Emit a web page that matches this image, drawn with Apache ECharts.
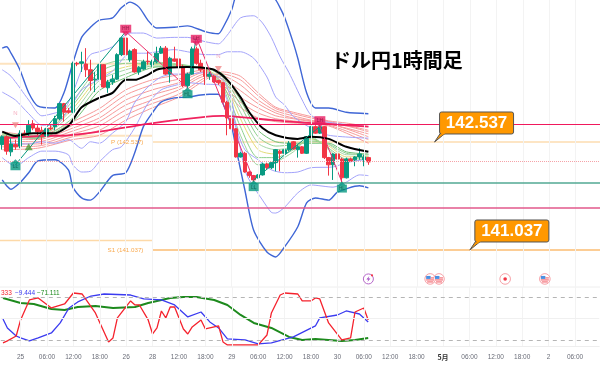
<!DOCTYPE html>
<html>
<head>
<meta charset="utf-8">
<style>html,body{margin:0;padding:0;background:#fff}#chart{width:600px;height:366px}</style>
<script src="https://cdn.jsdelivr.net/npm/echarts@6/dist/echarts.min.js"></script>
</head>
<body>
<div id="chart"></div>
<script>
const barCount = 136;
const tickIndex = [4,10,16,22,28,34,40,46,52,58,64,70,76,82,88,94,100,106,112,118,124,130];
const tickLabels = ['25','06:00','12:00','18:00','26','28','12:00','18:00','29','06:00','12:00','18:00','30','06:00','12:00','18:00','5月','06:00','12:00','18:00','2','06:00'];

// open, close, low, high
const candles = [
[142.50,142.61,142.43,142.63],[142.61,142.41,142.36,142.63],[142.40,142.51,142.34,142.59],[142.50,142.47,142.43,142.57],
[142.48,142.66,142.45,142.70],[142.66,142.64,142.61,142.70],[142.66,142.77,142.62,142.84],[142.79,142.73,142.70,142.84],
[142.73,142.68,142.63,142.77],[142.70,142.62,142.50,142.75],[142.62,142.72,142.59,142.75],[142.73,142.72,142.70,142.77],
[142.75,142.86,142.70,142.90],[142.86,143.07,142.84,143.08],[143.07,142.95,142.82,143.08],[142.97,142.95,142.93,143.01],
[142.95,143.63,142.94,143.65],[143.63,143.62,143.59,143.65],[143.63,143.65,143.51,143.79],[143.62,143.54,143.44,143.84],
[143.54,143.39,143.25,143.68],[143.40,143.41,143.23,143.51],[143.41,143.61,143.30,143.63],[143.61,143.30,143.29,143.62],
[143.29,143.37,143.22,143.40],[143.37,143.41,143.33,143.47],[143.41,143.75,143.40,143.77],[143.75,143.98,143.73,143.99],
[143.98,143.75,143.73,143.99],[143.68,143.80,143.65,143.82],[143.82,143.51,143.50,143.84],[143.51,143.57,143.47,143.59],
[143.55,143.65,143.54,143.68],[143.66,143.65,143.61,143.79],[143.61,143.65,143.58,143.68],[143.65,143.77,143.63,143.86],
[143.77,143.84,143.76,143.87],[143.84,143.48,143.47,143.87],[143.48,143.70,143.36,143.72],[143.69,143.66,143.65,143.86],
[143.69,143.58,143.54,143.72],[143.58,143.32,143.30,143.61],[143.32,143.48,143.29,143.50],[143.48,143.83,143.47,143.86],
[143.83,143.63,143.61,143.86],[143.63,143.54,143.51,143.68],[143.54,143.45,143.33,143.57],[143.45,143.48,143.40,143.51],
[143.45,143.37,143.36,143.47],[143.39,143.36,143.33,143.40],[143.36,143.09,143.08,143.37],[143.09,142.87,142.63,143.11],
[142.86,142.72,142.70,142.87],[142.72,142.33,142.32,142.73],[142.33,142.38,142.32,142.40],[142.38,142.12,142.11,142.40],
[142.12,142.07,142.04,142.13],[142.07,142.01,141.98,142.08],[142.04,142.08,142.03,142.09],[142.08,142.23,142.07,142.25],
[142.23,142.18,142.15,142.25],[142.18,142.25,142.16,142.26],[142.25,142.43,142.13,142.44],[142.41,142.38,142.13,142.43],
[142.38,142.43,142.37,142.45],[142.43,142.52,142.41,142.55],[142.54,142.44,142.43,142.55],[142.43,142.47,142.32,142.50],
[142.47,142.38,142.37,142.48],[142.38,142.61,142.37,142.62],[142.61,142.75,142.59,142.76],[142.75,142.66,142.65,142.77],
[142.66,142.75,142.65,142.77],[142.75,142.32,142.30,142.76],[142.32,142.22,142.07,142.33],[142.22,142.37,142.01,142.38],
[142.37,142.30,142.29,142.38],[142.30,142.04,141.97,142.32],[142.04,142.30,142.03,142.32],[142.30,142.27,142.26,142.32],
[142.29,142.33,142.20,142.34],[142.33,142.37,142.29,142.45],[142.29,142.33,142.20,142.36],[142.32,142.26,142.22,142.33]
];

// bands: [bar index, price]
const bbUpper3 = [[0,143.84],[1,143.86],[2,143.77],[4,143.54],[6,143.22],[8,143.04],[12,143.01],[14,143.22],[16,143.63],[18,143.99],[20,144.13],[22,144.23],[25,144.26],[27,144.40],[29,144.48],[31,144.41],[33,144.23],[35,144.12],[39,144.13],[42,144.15],[46,144.07],[49,144.04],[50,144.12],[52,144.37],[53,144.57],[57,144.95],[62,144.51],[63,144.40],[64,144.27],[66,143.91],[67,143.70],[69,143.22],[71,143.01],[74,143.01],[78,142.95],[83,142.93]];
const bbLower3 = [[0,142.01],[1,141.93],[2,141.88],[4,141.97],[6,142.11],[8,142.27],[12,142.29],[15,142.15],[16,141.91],[18,141.76],[20,141.73],[22,141.84],[25,142.07],[28,142.11],[30,142.38],[32,142.75],[34,142.94],[36,143.09],[39,143.15],[42,143.16],[45,143.19],[47,143.20],[49,143.20],[50,143.08],[52,142.75],[53,142.45],[55,141.87],[57,141.31],[60,141.01],[62,140.94],[64,141.08],[67,141.36],[69,141.69],[71,141.76],[74,141.73],[76,141.84],[81,141.93],[83,141.90]];
const bbUpper2 = [[0,143.54],[2,143.45],[6,143.12],[9,142.90],[12,142.94],[14,142.98],[16,143.22],[18,143.54],[20,143.75],[22,143.79],[25,143.86],[27,143.98],[29,144.05],[32,144.05],[35,143.98],[39,143.99],[42,143.99],[46,143.93],[49,143.90],[51,144.02],[54,144.26],[57,144.29],[59,144.19],[61,143.99],[63,143.72],[65,143.50],[68,143.12],[70,142.91],[73,142.82],[83,142.75]];
const bbUpper1 = [[0,143.23],[3,143.12],[6,142.93],[9,142.77],[12,142.77],[15,142.98],[18,143.26],[20,143.34],[25,143.52],[29,143.77],[33,143.77],[35,143.79],[39,143.82],[42,143.79],[46,143.75],[49,143.75],[51,143.79],[54,143.79],[57,143.70],[60,143.44],[62,143.16],[64,143.05],[66,142.89],[70,142.73],[74,142.63],[83,142.59]];
const bbLower1 = [[0,142.62],[3,142.51],[6,142.51],[9,142.54],[12,142.52],[15,142.57],[18,142.45],[20,142.54],[22,142.52],[25,142.66],[28,142.82],[30,143.08],[33,143.30],[36,143.44],[39,143.48],[42,143.48],[46,143.50],[50,143.40],[52,143.12],[53,142.75],[55,142.43],[58,142.29],[61,142.15],[64,142.11],[67,142.12],[70,142.18],[75,142.19],[78,142.25],[83,142.30]];
const bbLower2 = [[0,142.32],[3,142.20],[6,142.32],[9,142.41],[12,142.41],[15,142.36],[16,142.22],[18,142.12],[20,142.13],[22,142.26],[25,142.43],[27,142.47],[30,142.73],[33,143.07],[36,143.26],[39,143.32],[42,143.36],[46,143.34],[49,143.33],[51,143.12],[53,142.73],[55,142.15],[56,142.01],[59,141.73],[61,141.56],[62,141.55],[64,141.63],[67,141.83],[70,141.94],[75,141.91],[78,141.98],[81,142.08],[83,142.07]];
const blackLine = [[0,142.68],[3,142.62],[7,142.66],[12,142.66],[15,142.76],[16,142.84],[18,143.02],[22,143.15],[25,143.22],[28,143.40],[30,143.40],[33,143.47],[35,143.54],[38,143.57],[42,143.58],[45,143.57],[48,143.54],[51,143.40],[54,143.16],[56,142.95],[59,142.73],[62,142.63],[67,142.58],[70,142.61],[74,142.58],[78,142.47],[83,142.40]];
const slowLine = [[0,142.59],[9,142.62],[15,142.63],[22,142.68],[33,142.79],[45,142.88],[50,142.90],[58,142.86],[65,142.82],[73,142.79],[83,142.75]];

// ribbons share one list of bar indexes
const ribbonIndex = [0,8,16,22,28,34,40,46,50,54,58,62,66,70,74,78,83];
const red1 = [142.68,142.62,142.82,143.00,143.26,143.40,143.47,143.54,143.29,143.02,142.87,142.82,142.80,142.79,142.76,142.66,142.52];
const red2 = [142.63,142.59,142.77,142.94,143.19,143.33,143.41,143.52,143.33,143.09,142.94,142.86,142.83,142.80,142.77,142.69,142.57];
const red3 = [142.59,142.57,142.73,142.87,143.12,143.26,143.36,143.51,143.37,143.16,143.01,142.90,142.86,142.82,142.79,142.72,142.61];
const red4 = [142.55,142.54,142.69,142.82,143.05,143.19,143.30,143.48,143.41,143.25,143.07,142.94,142.87,142.83,142.79,142.73,142.65];
const red5 = [142.51,142.51,142.65,142.76,142.98,143.12,143.26,143.45,143.45,143.33,143.12,142.97,142.90,142.84,142.80,142.76,142.68];
const red6 = [142.47,142.48,142.61,142.70,142.91,143.07,143.20,143.43,143.48,143.40,143.18,143.00,142.93,142.87,142.82,142.77,142.70];
const red7 = [142.43,142.45,142.57,142.63,142.84,143.01,143.16,143.40,143.51,143.45,143.22,143.02,142.95,142.89,142.83,142.80,142.75];
const green1 = [142.66,142.62,143.11,143.57,143.68,143.65,143.62,143.54,143.30,142.63,142.22,142.26,142.40,142.61,142.43,142.26,142.32];
const green2 = [142.65,142.61,143.05,143.51,143.63,143.63,143.61,143.55,143.34,142.75,142.32,142.32,142.43,142.59,142.45,142.30,142.33];
const green3 = [142.65,142.61,143.00,143.44,143.58,143.62,143.61,143.55,143.39,142.86,142.43,142.37,142.45,142.58,142.48,142.33,142.34];
const green4 = [142.63,142.61,142.94,143.39,143.54,143.61,143.59,143.57,143.43,142.95,142.52,142.43,142.47,142.57,142.50,142.36,142.36];
const green5 = [142.63,142.59,142.87,143.32,143.48,143.59,143.59,143.57,143.45,143.05,142.61,142.48,142.50,142.55,142.51,142.38,142.36];
const green6 = [142.62,142.59,142.82,143.25,143.43,143.57,143.59,143.57,143.48,143.12,142.70,142.54,142.52,142.52,142.52,142.40,142.37];

// zigzag turning points
const zigzag = [[3,142.22],[28,144.07],[42,143.29],[44,143.99],[57,142.01],[72,142.75],[77,141.98]];

// pivots
const pinkBoxes = [[28,144.11,'HH'],[44,143.97,'LH'],[72,142.84,'LH']];
const greenBoxes = [[3,142.20,'LL'],[42,143.20,'HL'],[57,141.91,'LL'],[77,141.89,'HL']];
const nMarks = [[3,142.94],[49,143.72]];
const downMarks = [[3,142.77],[49,143.55]];
const upMarks = [[6,142.47]];

// levels
const pinkLevel = 142.79;
const greenLevel = 141.97;
const magentaLevel = 141.635;
const dottedLevel = 142.27;
const oldR1 = 143.625;
const oldP = 142.625;
const oldS1 = 141.17;
const pivotP = 142.537;
const pivotS1 = 141.037;
const pivotStart = 34;
const callouts = [[98,142.537,'142.537'],[106,141.037,'141.037']];
const pivotTexts = [[32,142.537,'P (142.537)'],[32,141.037,'S1 (141.037)']];

// lower pane
const redOsc = [[0,-84.1],[1,-81.3],[3,-74.4],[4,-52],[6,-24.1],[8,-21.3],[11,-35.3],[14,-29.7],[16,-14.4],[18,-15.8],[21,-42.3],[24,-82.7],[25,-77.1],[26,-49.2],[29,-25.5],[30,-31.1],[31,-31.1],[33,-52],[34,-71.6],[35,-63.2],[36,-39.5],[37,-49.2],[38,-33.9],[39,-33.9],[41,-64.6],[42,-71.6],[43,-61.8],[45,-52],[46,-64.6],[49,-60.4],[50,-82.7],[51,-86.9],[58,-86.9],[60,-73],[61,-42.3],[63,-17.2],[64,-14.4],[67,-15.8],[68,-25.5],[70,-25.5],[71,-21.3],[72,-22.7],[74,-56.2],[77,-79.9],[79,-77.1],[80,-40.9],[82,-35.3],[83,-52]];
const blueOsc = [[0,-50.6],[1,-63.2],[3,-74.4],[4,-77.1],[6,-81.3],[8,-77.1],[11,-70.2],[13,-56.2],[15,-35.3],[17,-26.9],[20,-18.6],[23,-15.8],[29,-17.2],[32,-22.7],[36,-24.1],[39,-31.1],[42,-47.8],[45,-40.9],[47,-54.8],[49,-63.2],[51,-78.5],[55,-79.9],[58,-85.5],[61,-84.1],[66,-75.7],[71,-60.4],[72,-49.2],[76,-45.1],[78,-39.5],[81,-43.7],[83,-54.8]];
const greenOsc = [[0,-21.3],[4,-28.3],[7,-29.7],[11,-36.7],[14,-38.1],[17,-33.9],[21,-32.5],[25,-35.3],[30,-33.9],[33,-28.3],[38,-21.3],[41,-20],[44,-20],[48,-24.1],[51,-31.1],[54,-45],[57,-56.2],[61,-63.2],[65,-75.7],[68,-79.9],[71,-78.5],[74,-79.9],[77,-81.3],[80,-79.9],[83,-77.1]];
const oscLevels = [-20,-80];

// event icons along the bottom of the price pane
const eventPrice = 140.635;
const eventBolt = [83];
const eventFlags = [97,99,123];
const eventDots = [114];

const categories = Array.from({length: barCount}, (_, i) => {
  const t = tickIndex.indexOf(i);
  return t < 0 ? '' : tickLabels[t];
});

function lineSeries(data, color, width, z) {
  return {
    type: 'line', data: data, showSymbol: false, smooth: 0.25, silent: true,
    lineStyle: {color: color, width: width}, itemStyle: {color: color}, z: z || 2
  };
}
function ribbon(values, color) {
  return lineSeries(ribbonIndex.map((k, i) => [k, values[i]]), color, 1);
}
function refLine(price, color, width, type) {
  return {yAxis: price, lineStyle: {color: color, width: width, type: type || 'solid'}};
}

const series = [];
// reference lines
series.push({
  type: 'line', data: [[0, 142]], showSymbol: false, silent: true, z: 1,
  markLine: {
    silent: true, symbol: 'none', label: {show: false}, animation: false,
    data: tickIndex.map(k => ({xAxis: k, lineStyle: {color: '#f3f3f3', width: 1, type: 'solid'}})).concat([
      refLine(greenLevel, '#52a893', 1.5),
      refLine(magentaLevel, '#e2598b', 1.5),
      refLine(dottedLevel, '#f5a3a8', 1, 'dotted')
    ])
  }
});
// pivot levels step at the start of the new day, the first period runs off the left edge
const levelRows = [
  [oldR1, false, '#fde3bf', 2],
  [oldP, false, '#fde3bf', 2],
  [oldS1, false, '#fdd9a8', 1.5],
  [pivotP, true, '#fddcb0', 1.5],
  [pivotS1, true, '#fbbd72', 1.5]
];
series.push({
  type: 'custom', data: levelRows.map(r => [pivotStart, r[0]]), silent: true, z: 1,
  renderItem: (params, api) => {
    const c = api.coord([api.value(0), api.value(1)]);
    const row = levelRows[params.dataIndex];
    const x1 = row[1] ? c[0] : params.coordSys.x;
    const x2 = row[1] ? params.coordSys.x + params.coordSys.width : c[0];
    return {type: 'line', shape: {x1: x1, y1: c[1], x2: x2, y2: c[1]}, style: {stroke: row[2], lineWidth: row[3]}};
  }
});
// ribbons and bands
[red1, red2, red3, red4, red5, red6, red7].forEach(v => series.push(ribbon(v, '#f79a9a')));
[[green6, '#6fbf73'], [green5, '#8fd08f'], [green4, '#a5d6a7'], [green3, '#e3dc78'], [green2, '#8ccf8c'], [green1, '#9ed59e']].forEach(r => series.push(ribbon(r[0], r[1])));
series.push(lineSeries(bbUpper2, '#a3a3fb', 1));
series.push(lineSeries(bbUpper1, '#a3a3fb', 1));
series.push(lineSeries(bbLower1, '#a3a3fb', 1));
series.push(lineSeries(bbLower2, '#a3a3fb', 1));
series.push(lineSeries(bbUpper3, '#3f66d6', 1.4));
series.push(lineSeries(bbLower3, '#3f66d6', 1.4));
series.push(lineSeries(slowLine, '#f0245f', 1.8, 2));
series.push({
  type: 'candlestick', data: candles, barWidth: 4, silent: true, z: 3,
  itemStyle: {color: '#089981', color0: '#f23645', borderColor: '#089981', borderColor0: '#f23645', borderWidth: 1}
});
series.push(lineSeries(blackLine, '#000000', 2, 4));
// pink level sits on top of the candles
series.push({
  type: 'line', data: [[0, 142]], showSymbol: false, silent: true, z: 4,
  markLine: {silent: true, symbol: 'none', label: {show: false}, animation: false, data: [refLine(pinkLevel, '#f0185c', 1.2)]}
});
// zigzag
zigzag.slice(1).forEach((p, i) => {
  const s = lineSeries([zigzag[i], p], p[1] > zigzag[i][1] ? '#089981' : '#ec2f6b', 1, 4);
  s.smooth = false;
  series.push(s);
});

function markers(data, symbol, size, color, offset, label) {
  return {
    type: 'scatter', data: data, symbol: symbol, symbolSize: size, symbolOffset: offset || [0, 0],
    silent: true, z: 5, itemStyle: {color: color},
    label: label ? {show: true, position: 'inside', formatter: p => p.value[2], fontSize: 5, color: label, fontFamily: 'Liberation Sans'} : {show: false}
  };
}
series.push(markers(pinkBoxes, 'triangle', [8, 5], '#e91e63', [0, 5]));
series[series.length - 1].symbolRotate = 180;
series.push(markers(pinkBoxes, 'rect', [11, 8], '#e91e63', null, '#8a1040'));
series.push(markers(greenBoxes, 'rect', [10, 8], '#089981', null, '#06604f'));
series.push(markers(greenBoxes, 'triangle', [8, 4], '#089981', [0, -5]));
series.push(markers(upMarks, 'triangle', [8, 7], '#4f9a3a'));
series.push(markers(downMarks, 'triangle', [7, 6], '#f08a8a'));
series[series.length - 1].symbolRotate = 180;
series.push({
  type: 'scatter', data: nMarks, symbolSize: 0, silent: true, z: 5,
  label: {show: true, position: 'inside', formatter: 'N', fontSize: 6, color: '#f49ab0', fontFamily: 'Liberation Sans'}
});

// P and S1 captions
series.push({
  type: 'custom', data: pivotTexts, silent: true, z: 5, clip: false,
  renderItem: (params, api) => {
    const c = api.coord([api.value(0), api.value(1)]);
    return {type: 'text', style: {x: c[0], y: c[1], text: pivotTexts[params.dataIndex][2], fill: '#f9a94e', font: '6.2px "Liberation Sans"', textAlign: 'right', textVerticalAlign: 'middle'}};
  }
});
// orange callouts
series.push({
  type: 'custom', data: callouts, silent: true, z: 8, clip: false,
  renderItem: (params, api) => {
    const c = api.coord([api.value(0), api.value(1)]);
    const bx = c[0] + 5, by = c[1] - 30;
    return {type: 'group', children: [
      {type: 'polygon', shape: {points: [[c[0], c[1]], [bx + 1, by + 21], [bx + 6, by + 21]]}, style: {fill: '#ff9800', stroke: '#555', lineWidth: 1}},
      {type: 'rect', shape: {x: bx, y: by, width: 74, height: 22, r: 2}, style: {fill: '#ff9800', stroke: '#555', lineWidth: 1}},
      {type: 'polygon', shape: {points: [[bx + 1.5, by + 21], [bx + 6, by + 21], [bx + 2, by + 24]]}, style: {fill: '#ff9800'}},
      {type: 'text', style: {x: bx + 37, y: by + 11.5, text: callouts[params.dataIndex][2], fill: '#fff', font: 'bold 17px "Liberation Sans"', textAlign: 'center', textVerticalAlign: 'middle'}}
    ]};
  }
});
// event icons
series.push({
  type: 'custom', data: eventFlags.map(k => [k, eventPrice]), silent: true, z: 6, clip: false,
  renderItem: (params, api) => {
    const c = api.coord([api.value(0), api.value(1)]);
    const x = c[0], y = c[1];
    return {type: 'group', children: [
      {type: 'circle', shape: {cx: x, cy: y, r: 5.3}, style: {fill: '#fff', stroke: '#f7a0a6', lineWidth: 1}},
      {type: 'rect', shape: {x: x - 4, y: y + 0.5, width: 8, height: 1}, style: {fill: '#f0525c'}},
      {type: 'rect', shape: {x: x - 3, y: y + 2.5, width: 6, height: 1}, style: {fill: '#f0525c'}},
      {type: 'rect', shape: {x: x - 4, y: y - 3, width: 4.5, height: 3}, style: {fill: '#4a90e2'}},
      {type: 'rect', shape: {x: x + 0.5, y: y - 1.5, width: 3.5, height: 1}, style: {fill: '#f0525c'}}
    ]};
  }
});
series.push({
  type: 'custom', data: eventDots.map(k => [k, eventPrice]), silent: true, z: 6, clip: false,
  renderItem: (params, api) => {
    const c = api.coord([api.value(0), api.value(1)]);
    return {type: 'group', children: [
      {type: 'circle', shape: {cx: c[0], cy: c[1], r: 5.3}, style: {fill: '#fff', stroke: '#f7a0a6', lineWidth: 1}},
      {type: 'circle', shape: {cx: c[0], cy: c[1], r: 1.8}, style: {fill: '#f23645'}}
    ]};
  }
});
series.push({
  type: 'custom', data: eventBolt.map(k => [k, eventPrice]), silent: true, z: 6, clip: false,
  renderItem: (params, api) => {
    const c = api.coord([api.value(0), api.value(1)]);
    const x = c[0], y = c[1];
    return {type: 'group', children: [
      {type: 'circle', shape: {cx: x, cy: y, r: 5}, style: {fill: '#fff', stroke: '#b565c9', lineWidth: 1}},
      {type: 'polygon', shape: {points: [[x + 1, y - 3], [x - 2, y + 0.5], [x, y + 0.5], [x - 1, y + 3], [x + 2, y - 0.5], [x, y - 0.5]]}, style: {fill: '#a044c0'}},
      {type: 'circle', shape: {cx: x + 3.6, cy: y - 3.6, r: 1.1}, style: {fill: '#f23645'}}
    ]};
  }
});

// lower pane
function lower(s) { s.xAxisIndex = 1; s.yAxisIndex = 1; return s; }
series.push(lower({
  type: 'line', data: [[0, -50]], showSymbol: false, silent: true, z: 1,
  markLine: {
    silent: true, symbol: 'none', label: {show: false}, animation: false,
    data: tickIndex.map(k => ({xAxis: k, lineStyle: {color: '#f3f3f3', width: 1, type: 'solid'}})).concat(
      [refLine(-50, '#f0f0f0', 1)],
      oscLevels.map(v => refLine(v, '#b5b5b5', 1, [4, 4]))
    )
  }
}));
[[greenOsc, '#1d8a1d', 2], [blueOsc, '#3b3bf0', 1.3], [redOsc, '#f5222d', 1.3]].forEach(r => {
  const s = lower(lineSeries(r[0], r[1], r[2], 3));
  s.smooth = false;
  series.push(s);
});

const chart = echarts.init(document.getElementById('chart'));
chart.setOption({
  animation: false,
  backgroundColor: '#fff',
  title: {
    text: 'ドル円1時間足', left: 326, top: 45,
    textStyle: {fontFamily: '"Noto Sans CJK JP"', fontSize: 20, fontWeight: 'bold', color: '#000'}
  },
  graphic: [
    {type: 'line', shape: {x1: 0, y1: 287, x2: 600, y2: 287}, style: {stroke: '#eeeeee', lineWidth: 1}},
    {type: 'text', left: 1, top: 290, z: 20, style: {text: '333', fill: '#f5222d', font: '6.5px "Liberation Sans"'}},
    {type: 'text', left: 15, top: 290, z: 20, style: {text: '−9.444', fill: '#3b3bf0', font: '6.5px "Liberation Sans"'}},
    {type: 'text', left: 37, top: 290, z: 20, style: {text: '−71.111', fill: '#1d8a1d', font: '6.5px "Liberation Sans"'}}
  ],
  grid: [
    {left: 0, right: -1, top: 0, height: 287},
    {left: 0, right: -1, top: 287, height: 59}
  ],
  xAxis: [
    {type: 'category', gridIndex: 0, data: categories, axisLine: {show: false}, axisTick: {show: false}, axisLabel: {show: false}, splitLine: {show: false}},
    {
      type: 'category', gridIndex: 1, data: categories,
      axisLine: {show: true, onZero: false, lineStyle: {color: '#eeeeee'}}, axisTick: {show: false}, splitLine: {show: false},
      axisLabel: {
        interval: 0, margin: 8, fontSize: 6.5, color: '#6a6d78', fontFamily: 'Liberation Sans',
        formatter: v => v === '5月' ? '{b|5月}' : v,
        rich: {b: {fontSize: 7, fontWeight: 'bold', color: '#333', fontFamily: 'Noto Sans CJK JP'}}
      }
    }
  ],
  yAxis: [
    {type: 'value', gridIndex: 0, min: 140.523, max: 144.509, show: false, scale: true, splitLine: {show: false}},
    {
      type: 'value', gridIndex: 1, min: -88.4, max: -6, scale: true,
      axisLine: {show: false}, axisTick: {show: false}, axisLabel: {show: false}, splitLine: {show: false}
    }
  ],
  series: series
});
</script>
</body>
</html>
